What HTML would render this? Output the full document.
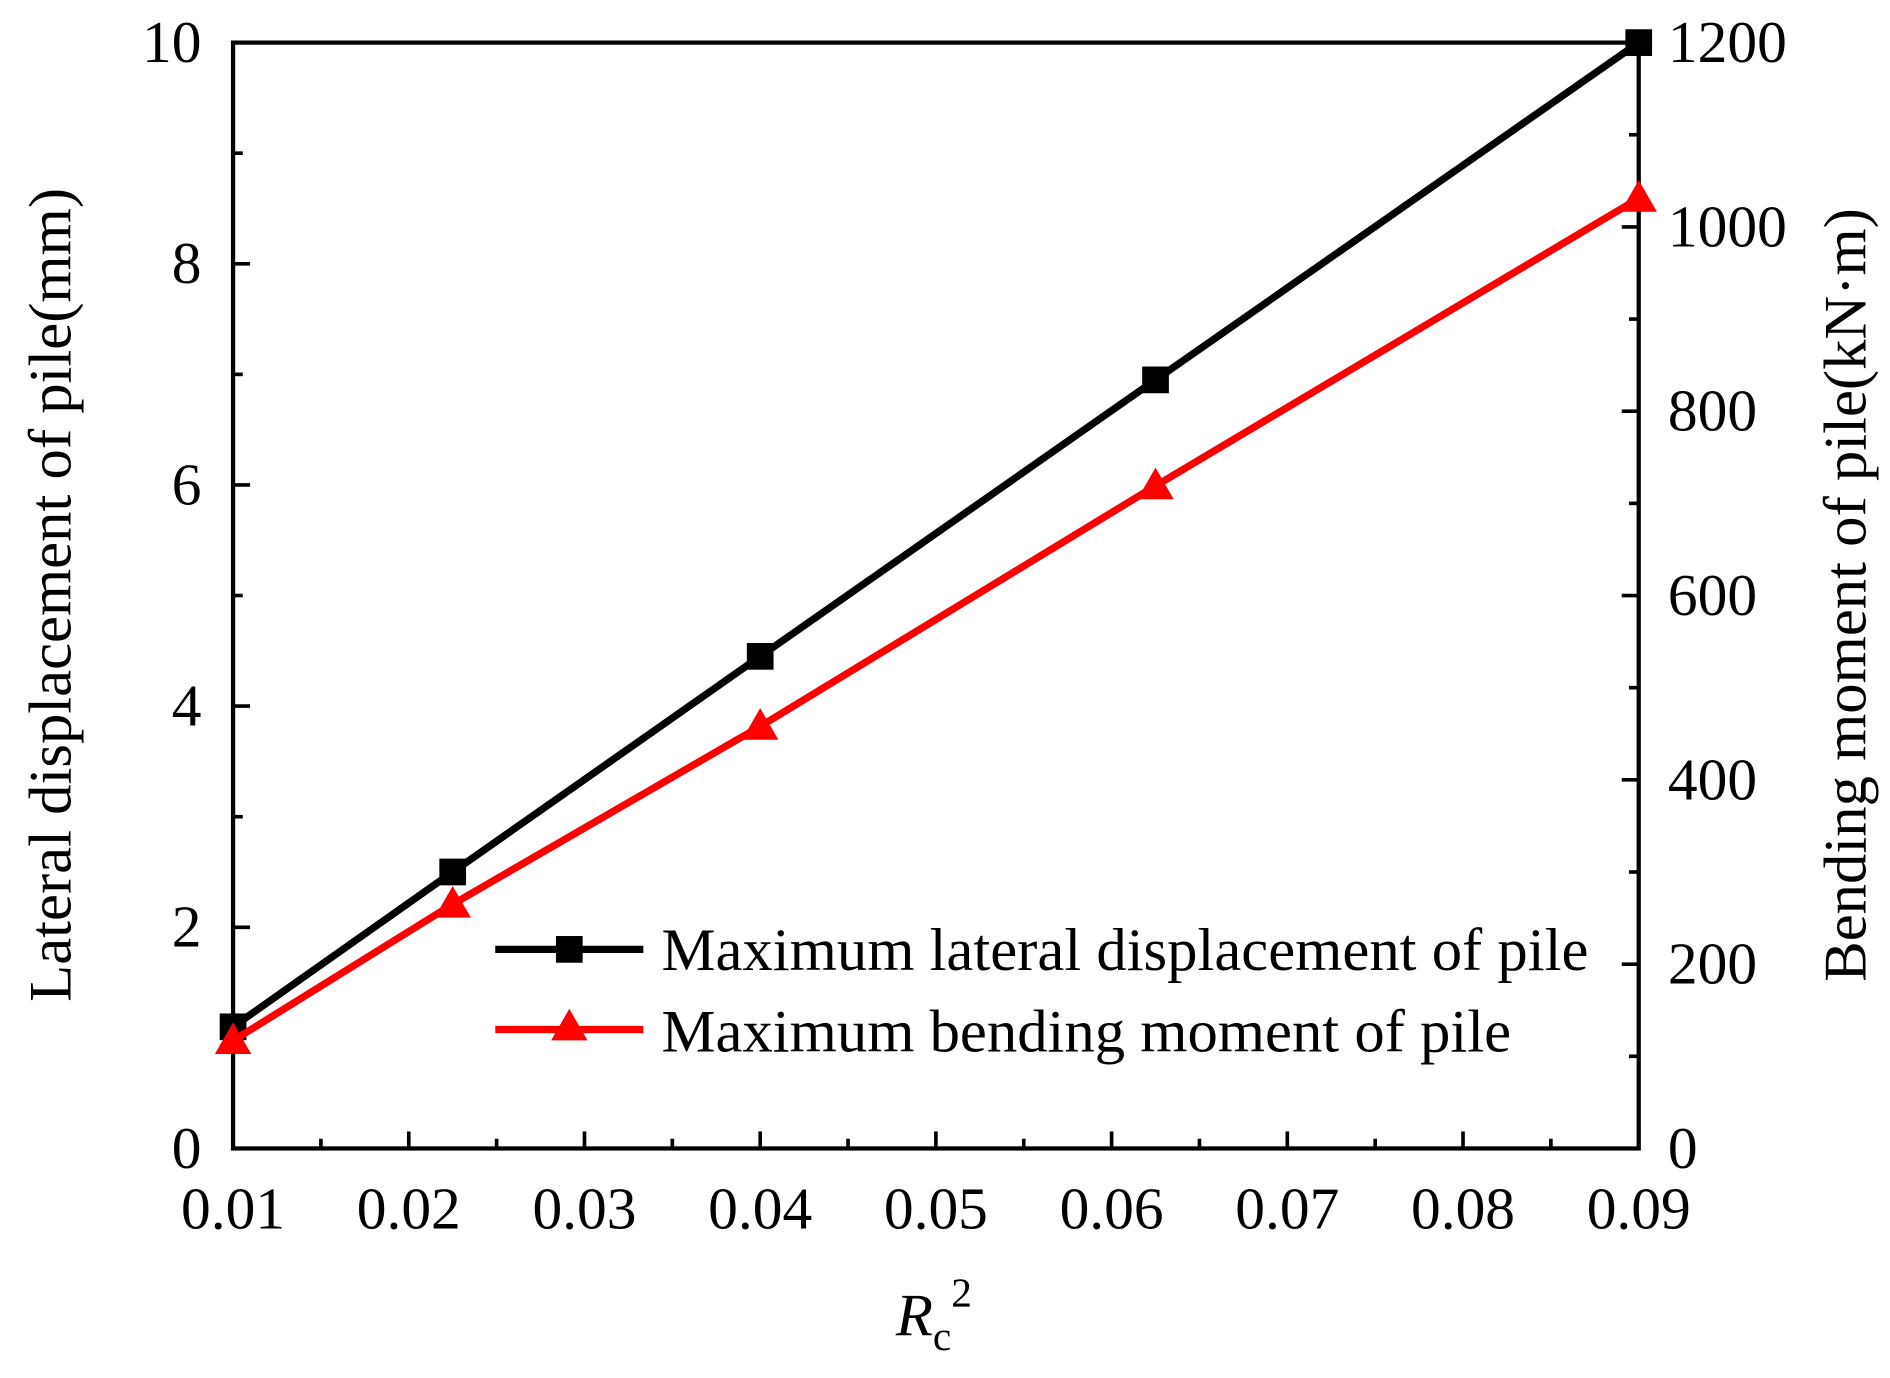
<!DOCTYPE html>
<html><head><meta charset="utf-8"><style>
html,body{margin:0;padding:0;background:#fff}
svg{display:block}
text{font-family:"Liberation Serif",serif;fill:#000}
</style></head><body>
<svg id="chart" width="1890" height="1378" viewBox="0 0 1557 1135" xmlns="http://www.w3.org/2000/svg">
</svg>
<script>
const xValues=[0.01,0.0225,0.04,0.0625,0.09];
const dispValues=[1.1,2.5,4.45,6.95,10.0];
const momentValues=[117,265,458,719,1031];
const xTicks=["0.01","0.02","0.03","0.04","0.05","0.06","0.07","0.08","0.09"];
const yLeftTicks=["0","2","4","6","8","10"];
const yRightTicks=["0","200","400","600","800","1000","1200"];
const L=192,R=1350,T=35,B=946;
const sx=v=>L+(v-0.01)/0.08*(R-L);
const syL=v=>B-v/10*(B-T);
const syR=v=>B-v/1200*(B-T);
const NS="http://www.w3.org/2000/svg";
const svg=document.getElementById('chart');
function mk(tag,attrs,parent){const e=document.createElementNS(NS,tag);for(const k in attrs)e.setAttribute(k,attrs[k]);(parent||svg).appendChild(e);return e;}
function txt(s,x,y,size,anchor,name){const t=mk('text',{x:x,y:y,'font-size':size,'text-anchor':anchor});t.textContent=s;


return t;}
const fr=mk('rect',{x:L,y:T,width:R-L,height:B-T,fill:'none',stroke:'#000','stroke-width':3.5});


for(let i=0;i<=16;i++){const v=0.01+i*0.005;const x=sx(v);const len=i%2==0?14:8;
const tk=mk('line',{x1:x,y1:B,x2:x,y2:B-len,stroke:'#000','stroke-width':3});

}
xTicks.forEach(s=>txt(s,sx(parseFloat(s)),1012,49,'middle','x-tick-label'));
for(let i=0;i<=10;i++){const y=syL(i);const len=i%2==0?14:8;
const tk=mk('line',{x1:L,y1:y,x2:L+len,y2:y,stroke:'#000','stroke-width':3});

}
yLeftTicks.forEach(s=>txt(s,166,syL(+s)+16,49,'end','y-left-tick-label'));
for(let i=0;i<=12;i++){const y=syR(i*100);const len=i%2==0?14:8;
const tk=mk('line',{x1:R,y1:y,x2:R-len,y2:y,stroke:'#000','stroke-width':3});

}
yRightTicks.forEach(s=>txt(s,1374,syR(+s)+16,49,'start','y-right-tick-label'));
const yt=txt('Lateral displacement of pile(mm)',0,0,50,'middle','y-left-axis-title');yt.setAttribute('transform','translate(58,490) rotate(-90)');
const yr=txt('Bending moment of pile(kN·m)',0,0,50,'middle','y-right-axis-title');yr.setAttribute('transform','translate(1537,490) rotate(-90)');
const xt=mk('text',{x:738,y:1100,'font-size':50});


xt.innerHTML='<tspan font-style="italic">R</tspan><tspan font-size="34" dy="12">c</tspan><tspan font-size="34" dy="-36">2</tspan>';
const bl=mk('polyline',{points:xValues.map((v,i)=>sx(v)+','+syL(dispValues[i])).join(' '),fill:'none',stroke:'#000','stroke-width':6});


xValues.forEach((v,i)=>{const m=mk('rect',{x:sx(v)-11,y:syL(dispValues[i])-11,width:22,height:22,fill:'#000'});

});
const rl=mk('polyline',{points:xValues.map((v,i)=>sx(v)+','+syR(momentValues[i])).join(' '),fill:'none',stroke:'#f00','stroke-width':6});


function tri(x,y){return (x)+','+(y-15)+' '+(x-15)+','+(y+11)+' '+(x+15)+','+(y+11);}
xValues.forEach((v,i)=>{const m=mk('polygon',{points:tri(sx(v),syR(momentValues[i])),fill:'#f00'});

});
const lg=mk('g',{});


const l1=mk('line',{x1:408,y1:782,x2:530,y2:782,stroke:'#000','stroke-width':6},lg);


const m1=mk('rect',{x:458,y:771,width:22,height:22,fill:'#000'},lg);


lg.appendChild(txt('Maximum lateral displacement of pile',545,799,50,'start','legend-displacement-label'));
const l2=mk('line',{x1:408,y1:848,x2:530,y2:848,stroke:'#f00','stroke-width':6},lg);


const m2=mk('polygon',{points:tri(469,846),fill:'#f00'},lg);


lg.appendChild(txt('Maximum bending moment of pile',545,866,50,'start','legend-moment-label'));
</script>
</body></html>
